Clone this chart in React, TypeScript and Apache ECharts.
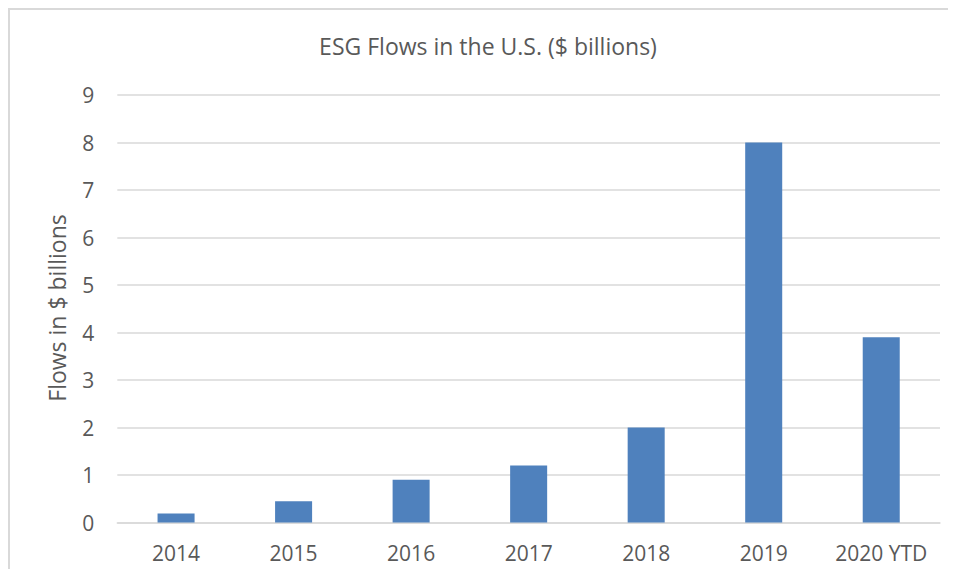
import React, { useEffect, useRef } from "react";
import * as echarts from "echarts";

const titleText = "ESG Flows in the U.S. ($ billions)";
const yAxisTitle = "Flows in $ billions";
const categories = ["2014", "2015", "2016", "2017", "2018", "2019", "2020 YTD"];
const flows = [0.19, 0.45, 0.9, 1.2, 2.0, 8.0, 3.9];
const yMin = 0;
const yMax = 9;
const yStep = 1;

const FONT = "'Open Sans', 'Noto Sans', sans-serif";
const TEXT_COLOR = "#595959";

export default function App() {
  const ref = useRef<HTMLDivElement>(null);
  useEffect(() => {
    if (!ref.current) return;
    const chart = echarts.init(ref.current, null, { renderer: "svg" });
    chart.setOption({
      animation: false,
      textStyle: { fontFamily: FONT },
      grid: { left: 107.3, right: 8, top: 85, bottom: 46.5, containLabel: false },
      graphic: [
        {
          type: "text",
          x: 478,
          y: 36,
          style: {
            text: titleText,
            fontFamily: FONT,
            fontSize: 23,
            fill: TEXT_COLOR,
            textAlign: "center",
            textVerticalAlign: "middle",
          },
        },
        {
          type: "text",
          x: 47,
          y: 298,
          rotation: Math.PI / 2,
          style: {
            text: yAxisTitle,
            fontFamily: FONT,
            fontSize: 23,
            fill: TEXT_COLOR,
            textAlign: "center",
            textVerticalAlign: "middle",
          },
        },
      ],
      xAxis: {
        type: "category",
        data: categories,
        axisLine: { show: true, lineStyle: { color: "#d9d9d9", width: 1.5 } },
        axisTick: { show: false },
        axisLabel: {
          color: TEXT_COLOR,
          fontSize: 21,
          fontFamily: FONT,
          margin: 20,
          interval: 0,
          hideOverlap: false,
        },
      },
      yAxis: {
        type: "value",
        min: yMin,
        max: yMax,
        interval: yStep,
        axisLine: { show: false },
        axisTick: { show: false },
        axisLabel: { color: TEXT_COLOR, fontSize: 21, fontFamily: FONT, margin: 23 },
        splitLine: { show: true, lineStyle: { color: "#d9d9d9", width: 1.5 } },
      },
      series: [
        {
          type: "bar",
          data: flows,
          barWidth: "31.5%",
          itemStyle: { color: "#4f81bd" },
        },
      ],
    });
    return () => chart.dispose();
  }, []);
  return (
    <div
      style={{
        width: 940,
        height: 561,
        borderTop: "2px solid #d9d9d9",
        borderLeft: "2px solid #d9d9d9",
        boxSizing: "border-box",
        background: "#fff",
      }}
    >
      <div ref={ref} style={{ width: 938, height: 559 }} />
    </div>
  );
}
